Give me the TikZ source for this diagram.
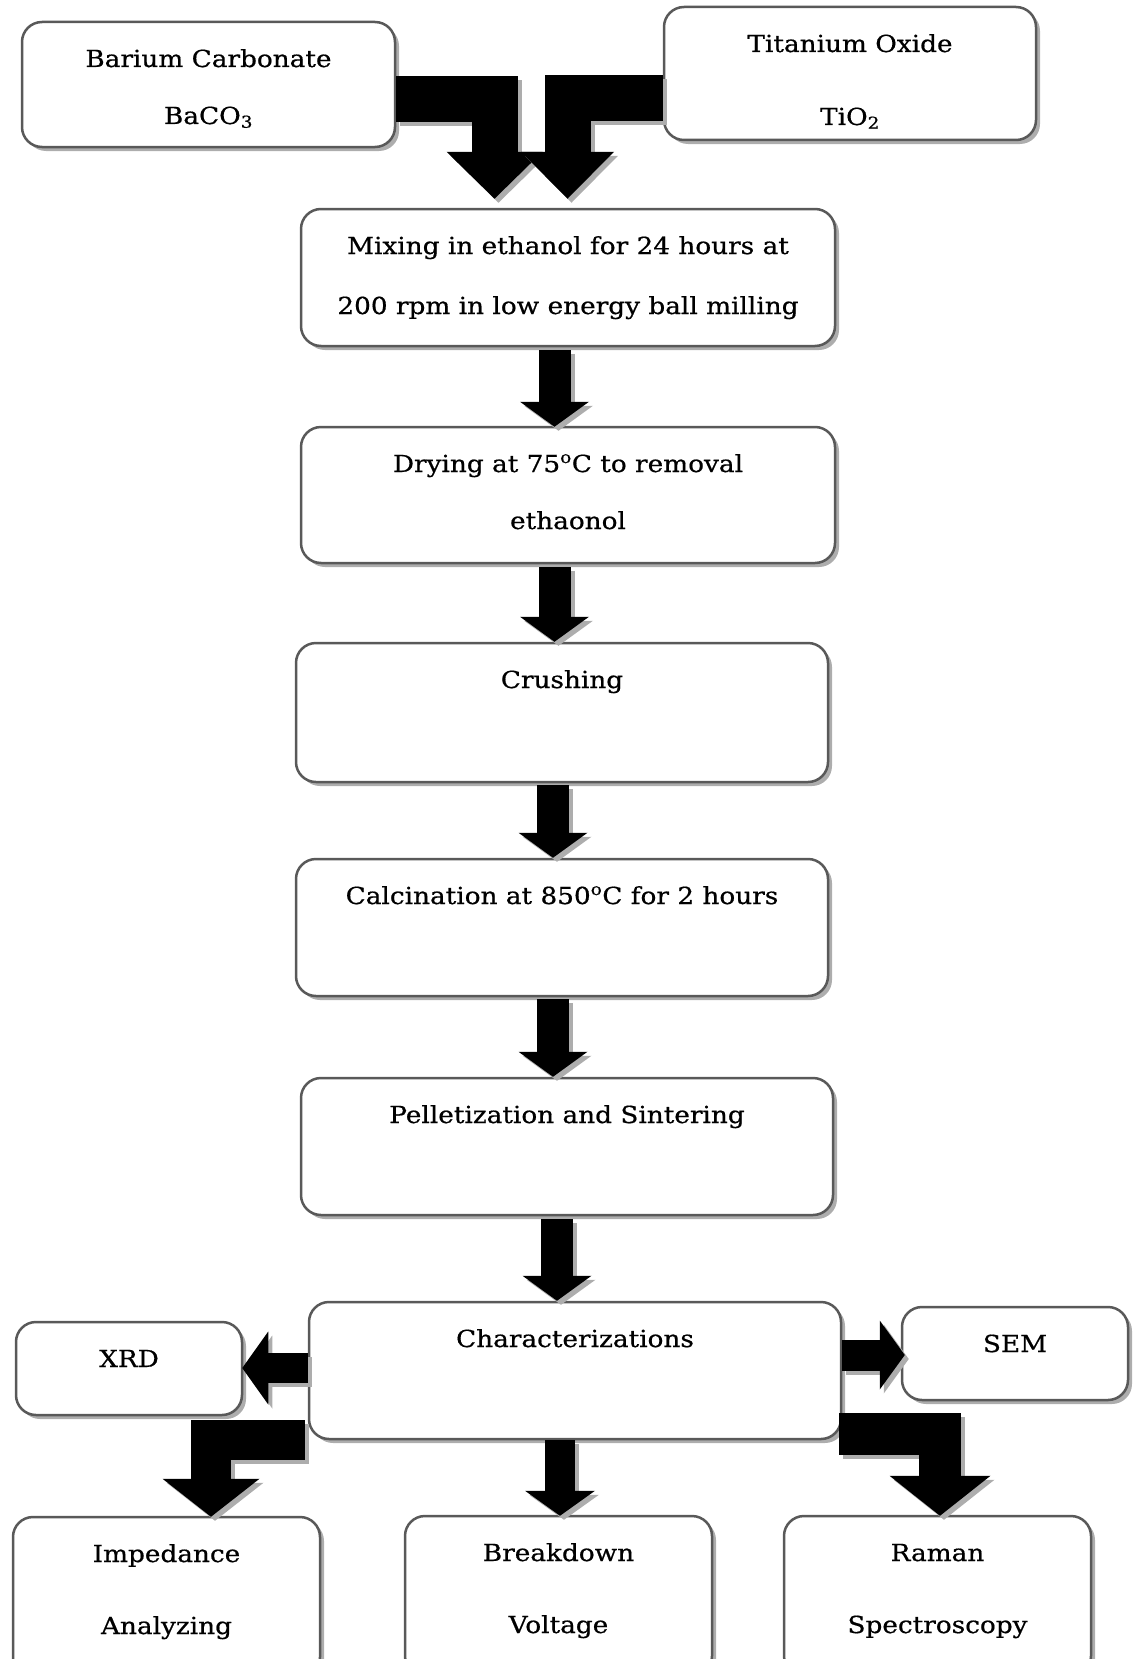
\documentclass[tikz,border=0pt]{standalone}
\usepackage{fontspec}
\setmainfont{DejaVu Serif}[FakeStretch=1.12, FakeBold=0.6]
\usetikzlibrary{arrows.meta,calc,shadows}

\tikzset{
  stepbox/.style={draw=black!65, line width=2.5pt, rounded corners=20pt, fill=white, inner sep=0pt,
    drop shadow={shadow xshift=4pt, shadow yshift=-4pt, fill=black!32, opacity=1}},
}
% box text: width, height, lines (top aligned)
\newcommand{\boxtxt}[3]{\parbox[c][#2pt][t]{#1pt}{\centering\rule{0pt}{45pt}#3}}
% block arrow with shadow: shaft width, tip keys, path
\newcommand{\blkarrow}[3]{%
  \draw[black!32, line width=#1pt, line join=miter, -{Triangle[line width=0pt, #2]},
    transform canvas={xshift=4pt, yshift=-4pt}] #3;
  \draw[black, line width=#1pt, line join=miter, -{Triangle[line width=0pt, #2]}] #3;}

\begin{document}
\begin{tikzpicture}[x=1pt, y=-1pt, font=\fontsize{23.5}{57}\selectfont]
    \useasboundingbox (0,0) rectangle (1136,1659);
    \clip (0,0) rectangle (1136,1659);

    % Raw materials
    \node[stepbox] (baco) at (208.5,84.5) {\boxtxt{373}{125}{Barium Carbonate\\BaCO\textsubscript{3}}};
    \node[stepbox] (tio) at (850,73.5) {\boxtxt{372}{133}{Titanium Oxide\\[16pt]TiO\textsubscript{2}}};

    % Processing steps
    \node[stepbox] (mix) at (568,277.5) {\boxtxt{534}{137}{Mixing in ethanol for 24 hours at\\[3pt]200 rpm in low energy ball milling}};
    \node[stepbox] (dry) at (568,495) {\boxtxt{534}{136}{Drying at 75\textsuperscript{o}C to removal\\ethaonol}};
    \node[stepbox] (crush) at (562,712.5) {\boxtxt{532}{139}{Crushing}};
    \node[stepbox] (calc) at (562,927.5) {\boxtxt{532}{137}{Calcination at 850\textsuperscript{o}C for 2 hours}};
    \node[stepbox] (pel) at (567,1146.5) {\boxtxt{532}{137}{Pelletization and Sintering}};
    \node[stepbox] (char) at (575,1370.5) {\boxtxt{532}{137}{Characterizations}};

    % Characterization techniques
    \node[stepbox] (xrd) at (129,1368.5) {\boxtxt{226}{93}{XRD}};
    \node[stepbox] (sem) at (1015,1353.5) {\boxtxt{226}{93}{SEM}};
    \node[stepbox] (imp) at (166.5,1597) {\boxtxt{307}{160}{Impedance\\[15pt]Analyzing}};
    \node[stepbox] (brk) at (558.5,1596) {\boxtxt{307}{160}{Breakdown\\[15pt]Voltage}};
    \node[stepbox] (ram) at (937.5,1596) {\boxtxt{307}{160}{Raman\\[15pt]Spectroscopy}};

    % Merging arrows
    \blkarrow{46}{length=47pt, width=96pt}{($(baco.east)+(0,15)$) -| ($(mix.north)+(-73.5,-9)$)}
    \blkarrow{46}{length=47pt, width=93pt}{($(tio.west)+(0,25)$) -| ($(mix.north)+(-0.5,-9)$)}

    % Step arrows
    \blkarrow{32}{length=25pt, width=69pt}{($(mix.south)+(-13.5,3)$) -- ($(dry.north)+(-13.5,1)$)}
    \blkarrow{32}{length=25pt, width=69pt}{($(dry.south)+(-13.5,3)$) -- ($(crush.north)+(-7.5,0)$)}
    \blkarrow{32}{length=25pt, width=69pt}{($(crush.south)+(-9,2)$) -- ($(calc.north)+(-9,0)$)}
    \blkarrow{32}{length=25pt, width=69pt}{($(calc.south)+(-9,2)$) -- ($(pel.north)+(-14,0)$)}
    \blkarrow{32}{length=25pt, width=69pt}{($(pel.south)+(-10,3)$) -- ($(char.north)+(-18,0)$)}

    % Branch arrows
    \blkarrow{30}{length=26pt, width=73pt}{($(char.west)+(0,-2.5)$) -- ($(xrd.east)+(-1,-0.5)$)}
    \blkarrow{31}{length=25pt, width=69pt}{($(char.east)+(0,-15.5)$) -- ($(sem.west)+(4,1.5)$)}
    \blkarrow{30}{length=25pt, width=70pt}{($(char.south)+(-15,0)$) -- ($(brk.north)+(1.5,1)$)}
    \blkarrow{40}{length=38pt, width=97pt}{($(char.west)+(-3,69.5)$) -| ($(imp.north)+(44.5,1)$)}
    \blkarrow{42}{length=40pt, width=101pt}{($(char.east)+(-3,63.5)$) -| ($(ram.north)+(2.5,1)$)}
\end{tikzpicture}
\end{document}
